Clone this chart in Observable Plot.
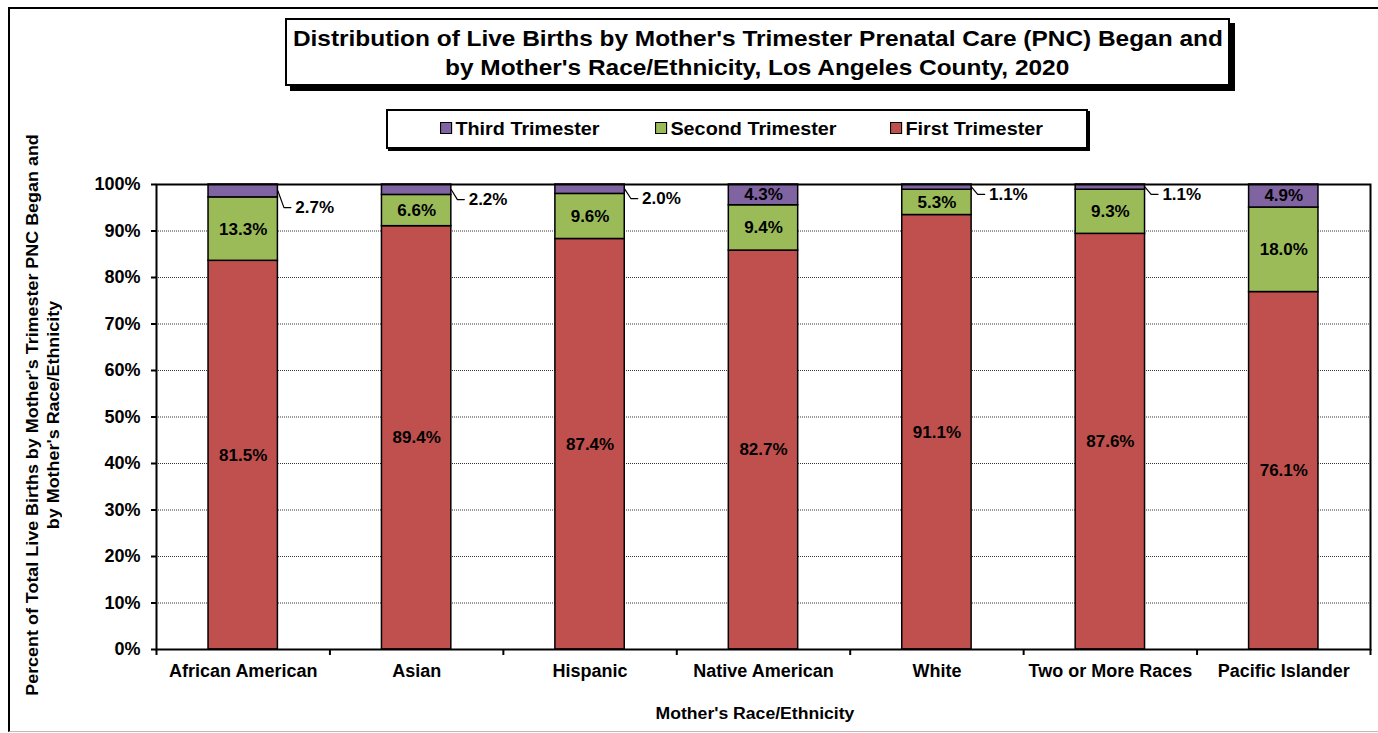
<!DOCTYPE html>
<html>
<head>
<meta charset="utf-8">
<script src="https://cdn.jsdelivr.net/npm/d3@7"></script>
<script src="https://cdn.jsdelivr.net/npm/@observablehq/plot@0.6"></script>
<style>
  html, body { margin: 0; padding: 0; background: #fff; overflow: hidden; }
  body { font-family: "Liberation Sans", Arial, sans-serif; }
  #wrap { position: relative; width: 1378px; height: 733px; overflow: hidden; }
  #frame { position: absolute; left: 8px; top: 7px; width: 1400px; height: 722px;
           border-left: 2px solid #000; border-top: 2px solid #000; border-bottom: 1px solid #bbb; }
  #chart { position: absolute; left: 0; top: 0; }
  #title { position: absolute; left: 285px; top: 18px; width: 941px; height: 60px;
           border: 2px solid #000; background: #fff; box-shadow: 5px 5px 0 #000;
           font-weight: bold; font-size: 22px; line-height: 29px; text-align: center; padding-top: 4px; box-sizing: content-box; }
  .sx { display: inline-block; transform: scaleX(1.11); transform-origin: center; white-space: nowrap; }
  #legend { position: absolute; left: 386px; top: 109px; width: 698px; height: 36px;
            border: 2px solid #000; background: #fff; box-shadow: 2px 2px 0 #000; }
  .li { position: absolute; top: 8px; font-weight: bold; font-size: 18px; line-height: 20px; white-space: nowrap;
        transform: scaleX(1.1); transform-origin: left center; }
  .sw { display: inline-block; width: 9px; height: 10px; border: 1px solid #000; margin-right: 3px; vertical-align: 1px; }
  #ytitle { position: absolute; left: 43px; top: 415px; transform: translate(-50%, -50%) rotate(-90deg);
            font-weight: bold; font-size: 16px; line-height: 21px; text-align: center; white-space: nowrap; }
  #ytitle .in { display: inline-block; transform: scaleX(1.12); }
  #xtitle { position: absolute; left: 755px; top: 714px; transform: translate(-50%, -50%) scaleX(1.1);
            font-weight: bold; font-size: 16px; white-space: nowrap; }
</style>
</head>
<body>
<div id="wrap">
  <div id="frame"></div>
  <div id="chart"></div>
  <div id="title"><span class="sx">Distribution of Live Births by Mother's Trimester Prenatal Care (PNC) Began and</span><br><span class="sx">by Mother's Race/Ethnicity, Los Angeles County, 2020</span></div>
  <div id="legend"></div>
  <div id="ytitle"><span class="in">Percent of Total Live Births by Mother's Trimester PNC Began and<br>by Mother's Race/Ethnicity</span></div>
  <div id="xtitle">Mother's Race/Ethnicity</div>
</div>
<script>
const categories = ["African American", "Asian", "Hispanic", "Native American", "White", "Two or More Races", "Pacific Islander"];
const firstTrimester  = [81.5, 89.4, 87.4, 82.7, 91.1, 87.6, 76.1];
const secondTrimester = [13.3, 6.6, 9.6, 9.4, 5.3, 9.3, 18.0];
const thirdTrimester  = [2.7, 2.2, 2.0, 4.3, 1.1, 1.1, 4.9];
const seriesNames = ["First Trimester", "Second Trimester", "Third Trimester"];
const seriesColors = ["#C0504D", "#9BBB59", "#8064A2"];
const legendOrder = ["Third Trimester", "Second Trimester", "First Trimester"];
const yTicks = [0, 10, 20, 30, 40, 50, 60, 70, 80, 90, 100];

// Build a 100%-stacked table (Excel normalizes each column to 100%)
const seriesValues = [firstTrimester, secondTrimester, thirdTrimester];
const rows = [];
categories.forEach((cat, i) => {
  const vals = seriesValues.map(s => s[i]);
  const total = d3.sum(vals);
  let cum = 0;
  vals.forEach((v, k) => {
    const y1 = cum / total * 100;
    cum += v;
    const y2 = cum / total * 100;
    rows.push({i, cat, series: seriesNames[k], value: v, y1, y2, mid: (y1 + y2) / 2});
  });
});
const half = 0.2; // half bar width in band units
const insideRows = rows.filter(d => d.series !== "Third Trimester" || d.value >= 3);
const outsideRows = rows.filter(d => d.series === "Third Trimester" && d.value < 3)
  .map(d => ({...d, ly: d.y1 - (d.value > 2.5 ? 2.2 : 1.0)}));
const leaderPts = outsideRows.flatMap(d => [
  {i: d.i, x: d.i + half, y: d.mid},
  {i: d.i, x: d.i + half + 0.035, y: d.ly},
  {i: d.i, x: d.i + half + 0.075, y: d.ly}
]);
const fmt = v => v.toFixed(1) + "%";

const chart = Plot.plot({
  width: 1378,
  height: 733,
  marginLeft: 156,
  marginRight: 8,
  marginTop: 184,
  marginBottom: 84,
  style: {background: "transparent", fontFamily: "'Liberation Sans', Arial, sans-serif", color: "#000"},
  x: {domain: [-0.5, categories.length - 0.5], axis: null},
  y: {domain: [0, 100], axis: null},
  color: {domain: seriesNames, range: seriesColors},
  marks: [
    Plot.ruleY(yTicks.filter(t => t > 0 && t < 100), {stroke: "#000", strokeWidth: 0.8, strokeDasharray: "1,1"}),
    Plot.rect(rows, {x1: d => d.i - half, x2: d => d.i + half, y1: "y1", y2: "y2", fill: "series", stroke: "#000", strokeWidth: 1.5}),
    Plot.text(insideRows, {x: "i", y: "mid", text: d => fmt(d.value), fontSize: 17, fontWeight: "bold", fill: "#000"}),
    Plot.line(leaderPts, {x: "x", y: "y", z: "i", stroke: "#000", strokeWidth: 1.2}),
    Plot.text(outsideRows, {x: d => d.i + half + 0.1, y: "ly", text: d => fmt(d.value), textAnchor: "start", fontSize: 17, fontWeight: "bold", fill: "#000"}),
    Plot.frame({stroke: "#000", strokeWidth: 2}),
    Plot.axisY({ticks: yTicks, tickFormat: d => d + "%", tickSize: 5, tickPadding: 11, fontSize: 18, fontWeight: "bold", label: null, strokeWidth: 2}),
    Plot.axisX({ticks: d3.range(categories.length), tickFormat: i => categories[i], tickSize: 0, tickPadding: 15, fontSize: 18, fontWeight: "bold", label: null}),
    Plot.axisX({ticks: d3.range(categories.length + 1).map(k => k - 0.5), tickFormat: () => "", tickSize: 6, label: null, strokeWidth: 2})
  ]
});
document.getElementById("chart").appendChild(chart);

// Legend (HTML, above the plot)
const legend = document.getElementById("legend");
const legendLeft = [52, 267, 502];
legendOrder.forEach((name, k) => {
  const item = document.createElement("div");
  item.className = "li";
  item.style.left = legendLeft[k] + "px";
  const sw = document.createElement("span");
  sw.className = "sw";
  sw.style.background = seriesColors[seriesNames.indexOf(name)];
  item.appendChild(sw);
  item.appendChild(document.createTextNode(name));
  legend.appendChild(item);
});
</script>
</body>
</html>
